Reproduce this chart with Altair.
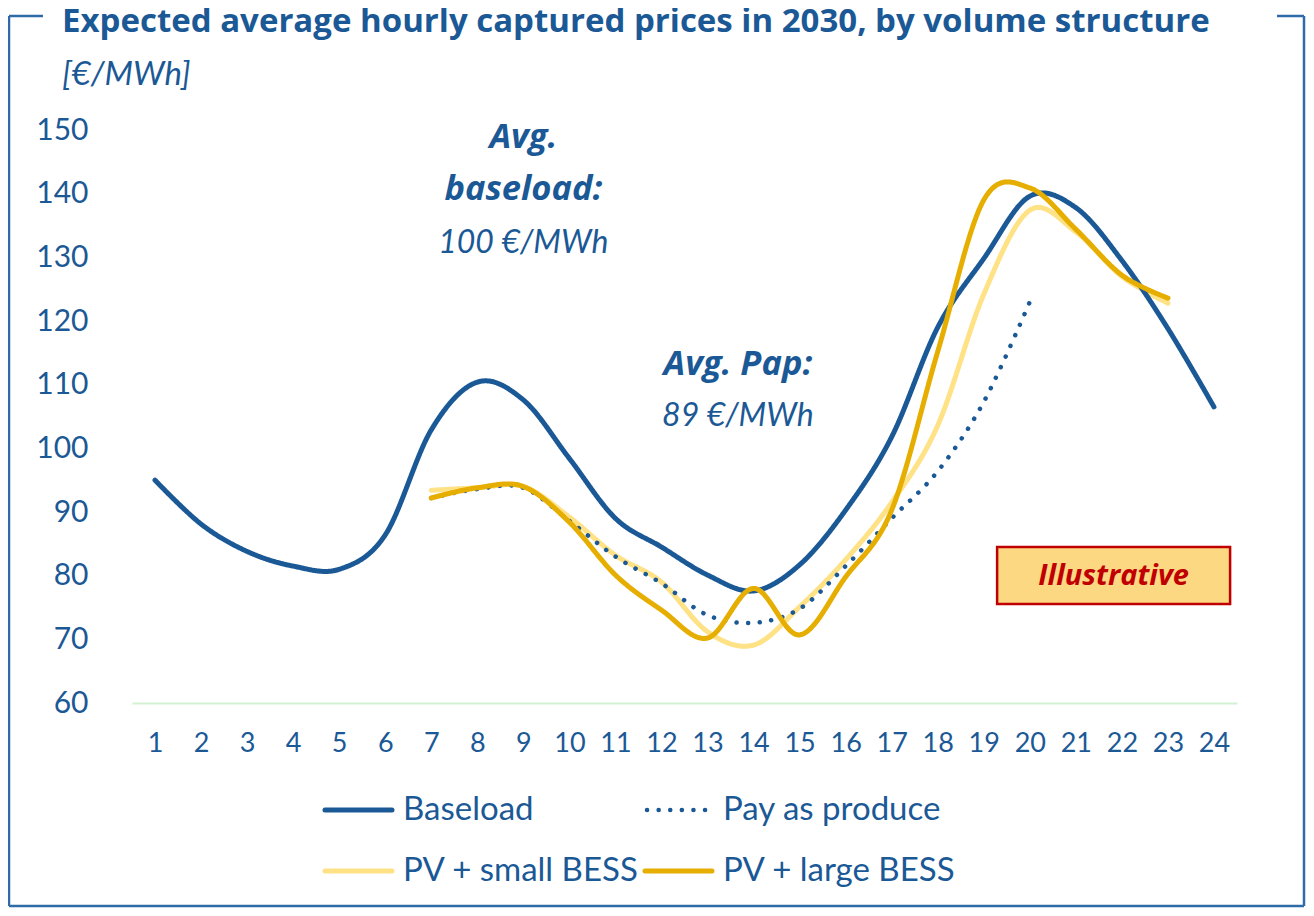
import altair as alt
import pandas as pd

# ---------------- data ----------------
hours = list(range(1, 25))
baseload = [95.0, 88.1, 83.8, 81.5, 81.0, 86.4, 102.9, 110.4, 107.6, 98.4,
            89.0, 84.5, 80.1, 77.6, 81.7, 90.3, 101.8, 119.0, 129.8, 139.6,
            137.8, 129.5, 118.8, 106.5]
pap_hours = list(range(7, 21))
pay_as_produce = [92.2, 93.6, 93.8, 88.6, 83.0, 78.8, 73.8, 72.6, 74.8, 81.5,
                  89.0, 96.4, 107.3, 123.0]
pv_hours = list(range(7, 24))
pv_small = [93.4, 93.8, 94.0, 89.2, 83.2, 79.0, 71.2, 69.1, 75.1, 82.5,
            91.5, 103.6, 124.2, 137.4, 134.0, 127.0, 122.8]
pv_large = [92.2, 93.8, 94.0, 88.4, 80.1, 74.6, 70.2, 78.0, 70.7, 79.8,
            90.3, 115.2, 139.0, 140.9, 134.4, 127.2, 123.6]

series_names = ["Baseload", "Pay as produce", "PV + small BESS", "PV + large BESS"]
y_ticks = [60, 70, 80, 90, 100, 110, 120, 130, 140, 150]

title_text = "Expected average hourly captured prices in 2030, by volume structure"
unit_text = "[€/MWh]"

# ---------------- styles ----------------
BLUE = "#1B5996"
FRAME = "#2E6BA8"
LIGHT_Y = "#FFE186"
DARK_Y = "#E6AE00"
FONT = "Lato"
BOLD_FONT = "Open Sans"

styles = {
    "Baseload": dict(color=BLUE, dash=[1, 0]),
    "Pay as produce": dict(color=BLUE, dash=[0.1, 11.5]),
    "PV + small BESS": dict(color=LIGHT_Y, dash=[1, 0]),
    "PV + large BESS": dict(color=DARK_Y, dash=[1, 0]),
}

W, H = 1105, 573
PAD = {"left": 124, "top": 122, "right": 1298 - 124 - W, "bottom": 900 - 122 - H}

xscale = alt.Scale(domain=[0.5, 24.5], nice=False, zero=False)
yscale = alt.Scale(domain=[60, 150], nice=False, zero=False)

xaxis = alt.Axis(values=hours, title=None, ticks=False, grid=False,
                 domainColor="#D4F1D2", domainWidth=2,
                 labelFont=FONT, labelFontSize=27, labelColor=BLUE,
                 labelPadding=27, labelFlush=False, labelOverlap=False)
yaxis = alt.Axis(values=y_ticks, title=None, ticks=False, grid=False, domain=False,
                 labelFont=FONT, labelFontSize=30, labelColor=BLUE,
                 labelPadding=44)


def X(field):
    return alt.X(field, type="quantitative", scale=xscale, axis=xaxis)


def Y(field):
    return alt.Y(field, type="quantitative", scale=yscale, axis=yaxis)


def series_layer(name, xs, ys):
    df = pd.DataFrame({"hour": xs, "price": ys})
    st = styles[name]
    return alt.Chart(df).mark_line(
        color=st["color"], strokeDash=st["dash"],
        strokeWidth=5 if name != "Pay as produce" else 4.5,
        strokeCap="round", interpolate="cardinal", tension=0,
    ).encode(x=X("hour"), y=Y("price"))


layers = [
    series_layer("PV + small BESS", pv_hours, pv_small),
    series_layer("Pay as produce", pap_hours, pay_as_produce),
    series_layer("Baseload", hours, baseload),
    series_layer("PV + large BESS", pv_hours, pv_large),
]

# ---------------- annotations in data coordinates ----------------
ann = pd.DataFrame({
    "hour": [9.0, 9.0, 9.0, 13.66, 13.66],
    "price": [148.7, 140.6, 132.2, 113.1, 105.1],
    "label": ["Avg.", "baseload:", "100 €/MWh", "Avg. Pap:", "89 €/MWh"],
    "bold": [True, True, False, True, False],
})
for bold in (True, False):
    sub = ann[ann["bold"] == bold]
    layers.append(
        alt.Chart(sub).mark_text(
            font=BOLD_FONT if bold else FONT, fontSize=34.5 if bold else 32, fontStyle="italic",
            fontWeight="bold" if bold else "normal",
            color=BLUE, align="center", baseline="middle",
        ).encode(x=X("hour"), y=Y("price"), text="label:N")
    )

box = pd.DataFrame({"x1": [19.29], "x2": [24.35], "y1": [75.55], "y2": [84.5],
                    "xc": [21.82], "yc": [80.0], "label": ["Illustrative"]})
layers.append(
    alt.Chart(box).mark_rect(fill="#FDD882", stroke="#C00000", strokeWidth=2.5).encode(
        x=X("x1"), x2="x2:Q", y=Y("y1"), y2="y2:Q")
)
layers.append(
    alt.Chart(box).mark_text(font=BOLD_FONT, fontSize=29, fontStyle="italic", fontWeight="bold",
                             color="#C00000", align="center", baseline="middle").encode(
        x=X("xc"), y=Y("yc"), text="label:N")
)

one = pd.DataFrame({"k": [0]})

# ---------------- title & unit ----------------
layers.append(alt.Chart(one).mark_text(text=title_text, font=BOLD_FONT, fontSize=33, fontWeight="bold",
                                       color=BLUE, align="left", baseline="alphabetic").encode(
    x=alt.value(-70), y=alt.value(-98)))
layers.append(alt.Chart(one).mark_text(text=unit_text, font=FONT, fontSize=33, fontStyle="italic",
                                       color=BLUE, align="left", baseline="middle").encode(
    x=alt.value(-70), y=alt.value(-55)))

# ---------------- frame ----------------
L, R, T, B = -123, 1172, -114, 776
frame_segments = [
    dict(x=L, x2=L, y=T, y2=B),
    dict(x=R, x2=R, y=T, y2=B),
    dict(x=L, x2=R, y=B, y2=B),
    dict(x=L, x2=-89, y=T, y2=T),
    dict(x=1145, x2=R, y=T, y2=T),
]
for seg in frame_segments:
    layers.append(alt.Chart(one).mark_rule(color=FRAME, strokeWidth=2.5).encode(
        x=alt.value(seg["x"]), x2=alt.value(seg["x2"]),
        y=alt.value(seg["y"]), y2=alt.value(seg["y2"])))

# ---------------- legend (2 x 2) ----------------
for i, name in enumerate(series_names):
    col, row = i % 2, i // 2
    x0 = 193 + col * 320
    y0 = 680 + row * 61
    st = styles[name]
    dotted = name == "Pay as produce"
    layers.append(alt.Chart(one).mark_rule(
        color=st["color"], strokeDash=st["dash"], strokeWidth=5 if not dotted else 4.5,
        strokeCap="round").encode(
        x=alt.value(x0 + (2 if dotted else 0)), x2=alt.value(x0 + 67), y=alt.value(y0)))
    layers.append(alt.Chart(one).mark_text(text=name, font=FONT, fontSize=33, color=BLUE,
                                           align="left", baseline="middle").encode(
        x=alt.value(x0 + 78), y=alt.value(y0)))

chart = alt.layer(*layers).properties(
    width=W, height=H, padding=PAD, autosize=alt.AutoSizeParams(type="none"),
    background="white",
).configure_view(stroke=None)

chart.save("out.html", embed_options={"renderer": "svg", "actions": False})
